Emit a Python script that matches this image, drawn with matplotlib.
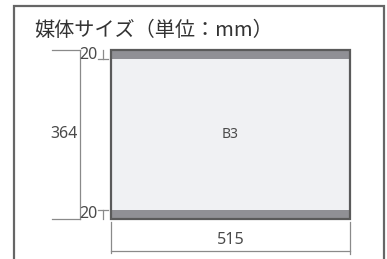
import matplotlib
matplotlib.use('Agg')
import matplotlib.pyplot as plt
from matplotlib.patches import Rectangle

plt.rcParams['font.family'] = ['Noto Sans CJK JP', 'DejaVu Sans']

# B3 media size in mm
title = '媒体サイズ（単位：mm）'
media_name = 'B3'
media_w = 515
media_h = 364
band = 20

txt_col = '#4a4a4a'
dim_col = '#8a8a8a'
num_font = ['Noto Sans', 'DejaVu Sans']

fig = plt.figure(figsize=(3.87, 2.59), dpi=100)
fig.patch.set_facecolor('white')

# outer frame (bottom edge runs off the picture)
fig.patches.append(Rectangle((14 / 387, -0.2), 370 / 387, 1.2 - 6 / 259,
                             transform=fig.transFigure, fill=False,
                             edgecolor='#666666', linewidth=1.6))
fig.text(34 / 387, 1 - 31 / 259, title, fontsize=14.5, color='#333333',
         ha='left', va='center')

ax = fig.add_axes([111 / 387, 40 / 259, 239 / 387, 169 / 259])
ax.set_xlim(0, media_w)
ax.set_ylim(0, media_h)
ax.axis('off')

# sheet and the two bands
ax.add_patch(Rectangle((0, 0), media_w, media_h, facecolor='#f0f1f3',
                       edgecolor='none'))
ax.add_patch(Rectangle((0, media_h - band), media_w, band, facecolor='#909095',
                       edgecolor='none'))
ax.add_patch(Rectangle((0, 0), media_w, band, facecolor='#909095',
                       edgecolor='none'))
ax.add_patch(Rectangle((0, 0), media_w, media_h, fill=False,
                       edgecolor='#5a5a5a', linewidth=1.6, clip_on=False))

k = dict(color=dim_col, linewidth=0.9, clip_on=False)
num_size = 11.5

# height dimension
ax.plot([-127, -67], [media_h, media_h], **k)
ax.plot([-127, -67], [0, 0], **k)
ax.plot([-67, -67], [0, media_h], **k)
ax.text(-71, media_h / 2, str(media_h), fontsize=num_size, color=txt_col,
        family=num_font, ha='right', va='center')

# band markers
ax.plot([-17, -17], [media_h - band, media_h], **k)
ax.plot([-27, -7], [media_h - band, media_h - band], **k)
ax.plot([-17, -17], [0, band], **k)
ax.plot([-27, -7], [band, band], **k)
ax.text(-29, media_h - band / 2, str(band), fontsize=num_size, color=txt_col,
        family=num_font, ha='right', va='center')
ax.text(-29, band / 2, str(band), fontsize=num_size, color=txt_col,
        family=num_font, ha='right', va='center')

# width dimension
ax.plot([0, 0], [-7, -74], **k)
ax.plot([media_w, media_w], [-7, -76], **k)
ax.plot([0, media_w], [-69, -69], **k)
ax.text(media_w / 2, -46, str(media_w), fontsize=num_size, color=txt_col,
        family=num_font, ha='center', va='center')

ax.text(media_w / 2, media_h / 2, media_name, fontsize=10, color=txt_col,
        family=num_font, ha='center', va='center')

fig.savefig('out.png', dpi=100)
